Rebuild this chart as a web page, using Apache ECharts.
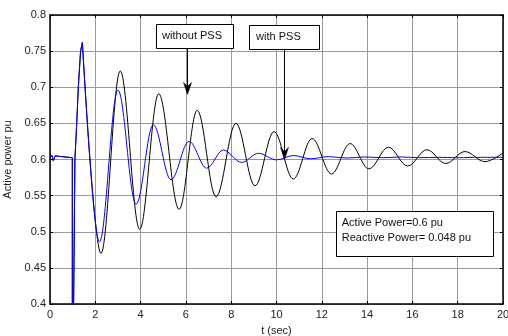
<!DOCTYPE html>
<html>
<head>
<meta charset="utf-8">
<script src="https://cdn.jsdelivr.net/npm/echarts@6/dist/echarts.min.js"></script>
<style>html,body{margin:0;padding:0;background:#fff}#c{width:508px;height:336px}</style>
</head>
<body>
<div id="c"></div>
<script>
// ---- data ----
var xTicks = [0, 2, 4, 6, 8, 10, 12, 14, 16, 18, 20];
var yTicks = [0.4, 0.45, 0.5, 0.55, 0.6, 0.65, 0.7, 0.75, 0.8];
// pre-fault, fault and recovery rise (shared by both cases)
var faultPart = [[0, 0.6025], [0.08, 0.606], [0.15, 0.598], [0.22, 0.605], [0.3, 0.6025], [0.985, 0.6025], [0.985, 0.2], [1.05, 0.2], [1.1, 0.6], [1.18, 0.65], [1.25, 0.7], [1.35, 0.75], [1.43, 0.762]];
// oscillation extrema, without PSS (black)
var withoutPSS = [[1.43, 0.762], [2.25, 0.470], [3.10, 0.7225], [3.96, 0.5035], [4.80, 0.691], [5.70, 0.531], [6.50, 0.668], [7.33, 0.5485], [8.21, 0.650], [9.05, 0.5635], [9.89, 0.6385], [10.74, 0.573], [11.57, 0.629], [12.43, 0.580], [13.25, 0.622], [14.08, 0.587], [14.94, 0.617], [15.79, 0.591], [16.64, 0.6135], [17.47, 0.5945], [18.32, 0.611], [19.2, 0.597], [20, 0.609]];
// oscillation extrema, with PSS (blue)
var withPSS = [[1.43, 0.762], [2.18, 0.486], [3.0, 0.696], [3.80, 0.538], [4.56, 0.648], [5.34, 0.572], [6.14, 0.625], [6.92, 0.588], [7.65, 0.613], [8.46, 0.596], [9.2, 0.6086], [10.0, 0.5995], [10.75, 0.6055], [11.5, 0.601], [12.3, 0.604], [13.1, 0.602], [13.9, 0.6035], [14.7, 0.6025], [15.5, 0.6035], [16.3, 0.6025], [17.1, 0.603], [18.0, 0.6025], [19.0, 0.603], [20, 0.603]];
var labelWithout = 'without PSS';
var labelWith = 'with PSS';
var infoLines = ['Active Power=0.6 pu', 'Reactive Power= 0.048 pu'];

var FONT = '"Liberation Sans", Arial, Helvetica, sans-serif';
var chart = echarts.init(document.getElementById('c'), null, {renderer: 'canvas'});

function mkAxisX(pos, showLabel) {
  return {
    type: 'value', position: pos, min: xTicks[0], max: xTicks[xTicks.length - 1], interval: xTicks[1] - xTicks[0],
    name: showLabel ? 't (sec)' : '', nameLocation: 'middle', nameGap: 21,
    nameTextStyle: {color: '#222', fontFamily: FONT, fontSize: 11},
    axisLine: {show: true, onZero: false, lineStyle: {color: '#000', width: 1.5}},
    axisTick: {show: true, inside: true, length: 3, lineStyle: {color: '#000'}},
    axisLabel: {show: showLabel, color: '#222', fontFamily: FONT, fontSize: 11, margin: 5},
    splitLine: {show: showLabel, lineStyle: {color: '#9a9a9a', width: 1}}
  };
}
function mkAxisY(pos, showLabel) {
  return {
    type: 'value', position: pos, min: yTicks[0], max: yTicks[yTicks.length - 1], interval: 0.05,
    name: showLabel ? 'Active power pu' : '', nameLocation: 'middle', nameGap: 30,
    nameTextStyle: {color: '#222', fontFamily: FONT, fontSize: 11},
    axisLine: {show: true, onZero: false, lineStyle: {color: '#000', width: 1.5}},
    axisTick: {show: true, inside: true, length: 3, lineStyle: {color: '#000'}},
    axisLabel: {show: showLabel, color: '#222', fontFamily: FONT, fontSize: 11, margin: 4},
    splitLine: {show: showLabel, lineStyle: {color: '#9a9a9a', width: 1}}
  };
}

var lineBase = {type: 'line', showSymbol: false, symbol: 'none', clip: true, animation: false, silent: true};
chart.setOption({
  animation: false,
  grid: {left: 50, right: 5, top: 15, bottom: 32, containLabel: false, outerBoundsMode: 'none'},
  xAxis: [mkAxisX('bottom', true), mkAxisX('top', false)],
  yAxis: [mkAxisY('left', true), mkAxisY('right', false)],
  series: [
    Object.assign({}, lineBase, {name: 'fault-black', data: faultPart, smooth: false, lineStyle: {color: '#000', width: 1}}),
    Object.assign({}, lineBase, {name: labelWithout, data: withoutPSS, smooth: 0.36, smoothMonotone: 'x', lineStyle: {color: '#000', width: 1}}),
    Object.assign({}, lineBase, {name: 'fault-blue', data: faultPart, smooth: false, lineStyle: {color: '#0000ff', width: 1}}),
    Object.assign({}, lineBase, {name: labelWith, data: withPSS, smooth: 0.36, smoothMonotone: 'x', lineStyle: {color: '#0000ff', width: 1}})
  ]
});

function px(x, y) { return chart.convertToPixel({gridIndex: 0}, [x, y]); }
function box(x0, y0, x1, y1) {
  var a = px(x0, y0), b = px(x1, y1);
  return {type: 'rect', z: 100, shape: {x: Math.round(a[0]) + 0.5, y: Math.round(a[1]) + 0.5, width: Math.round(b[0] - a[0]), height: Math.round(b[1] - a[1])},
    style: {fill: '#fff', stroke: '#000', lineWidth: 1}};
}
function txt(x, y, s) {
  var a = px(x, y);
  return {type: 'text', z: 101, x: a[0], y: a[1], style: {text: s, fill: '#111', font: '11px ' + FONT, textVerticalAlign: 'middle', verticalAlign: 'middle'}};
}
function arrow(x, yStart, yTip) {
  var s = px(x, yStart), t = px(x, yTip);
  var cx = Math.round(t[0]) + 0.5, ty = t[1];
  return [
    {type: 'line', z: 100, shape: {x1: cx, y1: s[1], x2: cx, y2: ty - 8}, style: {stroke: '#000', lineWidth: 1}},
    {type: 'polygon', z: 100, shape: {points: [[cx, ty], [cx - 4, ty - 12], [cx, ty - 8], [cx + 4, ty - 12]]}, style: {fill: '#000', stroke: '#000', lineWidth: 0.5}}
  ];
}
var g = [];
g.push(box(4.67, 0.787, 8.05, 0.754));
g.push(txt(4.95, 0.7705, labelWithout));
g.push(box(8.8, 0.786, 11.88, 0.753));
g.push(txt(9.1, 0.7695, labelWith));
g = g.concat(arrow(6.04, 0.754, 0.690));
g = g.concat(arrow(10.34, 0.753, 0.600));
g.push(box(12.63, 0.529, 19.54, 0.467));
g.push(txt(12.88, 0.5125, infoLines[0]));
g.push(txt(12.88, 0.4915, infoLines[1]));
chart.setOption({graphic: {elements: g}});
</script>
</body>
</html>
